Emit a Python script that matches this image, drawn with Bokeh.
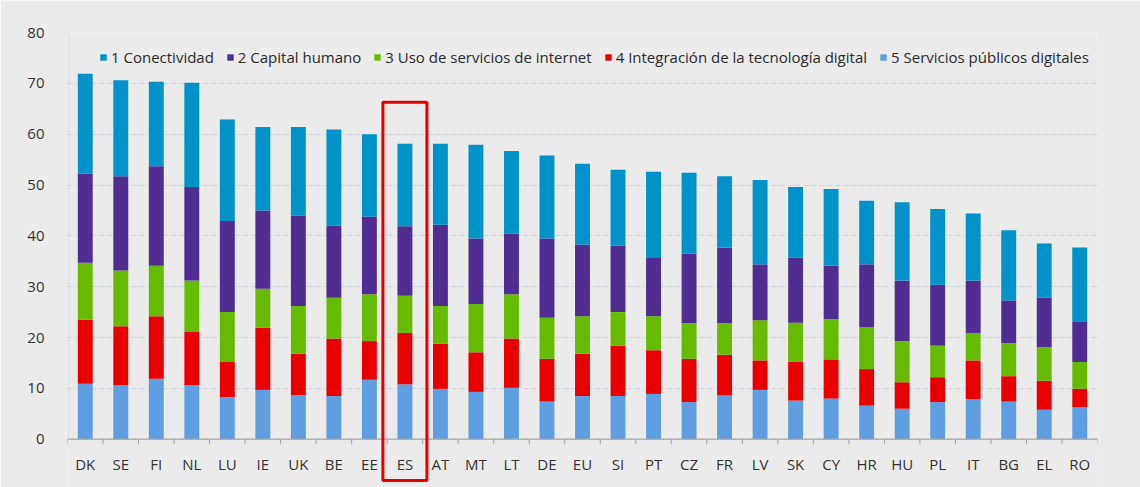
from bokeh.plotting import figure
from bokeh.models import (ColumnDataSource, Range1d, FixedTicker, Span,
                          Legend, LegendItem, BoxAnnotation)
from bokeh.core.properties import value
from bokeh.embed import file_html
from bokeh.resources import INLINE

countries = ["DK", "SE", "FI", "NL", "LU", "IE", "UK", "BE", "EE", "ES", "AT", "MT", "LT", "DE", "EU",
             "SI", "PT", "CZ", "FR", "LV", "SK", "CY", "HR", "HU", "PL", "IT", "BG", "EL", "RO"]

series_names = ["1 Conectividad", "2 Capital humano", "3 Uso de servicios de internet",
                "4 Integración de la tecnología digital", "5 Servicios públicos digitales"]

conectividad = [19.7, 18.9, 16.6, 20.5, 20.0, 16.4, 17.4, 18.9, 16.2, 16.2, 15.9, 18.4, 16.3, 16.3, 15.9,
                14.9, 16.8, 15.9, 14.0, 16.6, 13.9, 15.1, 12.5, 15.4, 14.9, 13.2, 13.8, 10.7, 14.5]
capital_humano = [17.5, 18.5, 19.6, 18.4, 17.9, 15.4, 17.8, 14.2, 15.3, 13.7, 16.0, 12.9, 11.9, 15.6, 14.1,
                  13.1, 11.6, 13.7, 14.9, 11.0, 12.8, 10.5, 12.4, 11.9, 12.0, 10.3, 8.4, 9.7, 8.0]
uso_internet = [11.2, 11.0, 9.9, 10.0, 9.8, 7.7, 9.4, 8.0, 9.2, 7.3, 7.4, 9.5, 8.7, 8.1, 7.4,
                6.6, 6.7, 7.0, 6.2, 7.9, 7.7, 7.9, 8.2, 8.1, 6.2, 5.4, 6.5, 6.6, 5.3]
integracion = [12.6, 11.6, 12.3, 10.6, 6.9, 12.2, 8.1, 11.3, 7.6, 10.1, 8.9, 7.8, 9.7, 8.4, 8.3,
               9.9, 8.6, 8.5, 8.0, 5.8, 7.6, 7.7, 7.2, 5.2, 4.9, 7.6, 5.0, 5.7, 3.6]
servicios_publicos = [10.9, 10.6, 11.9, 10.6, 8.3, 9.7, 8.7, 8.5, 11.7, 10.8, 9.9, 9.3, 10.1, 7.4, 8.5,
                      8.5, 8.9, 7.3, 8.6, 9.7, 7.6, 8.0, 6.6, 6.0, 7.3, 7.9, 7.4, 5.8, 6.3]

y_ticks = [0, 10, 20, 30, 40, 50, 60, 70, 80]
highlight = "ES"

colors = ["#0092c8", "#502d91", "#66bb00", "#e80000", "#5f9ee0"]
BG = "#ebebeb"
AXIS = "#a6a6a6"
TEXT = "#333333"

n = len(countries)
xpos = [i + 0.5 for i in range(n)]
src = ColumnDataSource(dict(country=countries, x=xpos, s1=conectividad, s2=capital_humano,
                            s3=uso_internet, s4=integracion, s5=servicios_publicos))

# frame extends below zero so that the category labels and the highlight box sit inside it
y_bottom = -9.5
p = figure(width=1140, height=487, x_range=Range1d(0, n), y_range=Range1d(y_bottom, y_ticks[-1]),
           output_backend="svg", toolbar_location=None, x_axis_location=None,
           min_border_left=67, min_border_right=43, min_border_top=32, min_border_bottom=0)
p.background_fill_color = BG
p.border_fill_color = BG
p.outline_line_color = None

rs = p.vbar_stack(["s5", "s4", "s3", "s2", "s1"], x="x", width=0.42,
                  color=colors[::-1], line_color=None, source=src)

# x axis line, boundary ticks and category labels
p.add_layout(Span(location=0, dimension="width", line_color=AXIS, line_width=1.2))
bounds = [float(i) for i in range(n + 1)]
p.segment(x0=bounds, y0=[0] * len(bounds), x1=bounds, y1=[-1.0] * len(bounds),
          line_color=AXIS, line_width=1)
p.text(x="x", y=-4.8, text="country", source=src, text_align="center", text_baseline="middle",
       text_font=value("Open Sans"), text_font_size="15px", text_color=TEXT)

# y axis
ya = p.yaxis[0]
ya.ticker = FixedTicker(ticks=y_ticks)
ya.axis_line_color = None
ya.major_tick_line_color = None
ya.minor_tick_line_color = None
ya.major_label_standoff = 17
ya.major_label_text_font = "Open Sans"
ya.major_label_text_font_size = "15px"
ya.major_label_text_color = TEXT
p.segment(x0=[0.02], y0=[y_ticks[0]], x1=[0.02], y1=[y_ticks[-1]], line_color="#d3d8e2", line_width=1)

p.xgrid.visible = False
p.ygrid.grid_line_color = "#cdd3df"
p.ygrid.grid_line_dash = "5 3"
p.ygrid.grid_line_width = 1

order = [4, 3, 2, 1, 0]  # rs is stacked bottom-up: s5..s1
items = [LegendItem(label=series_names[k], renderers=[rs[order[k]]]) for k in range(5)]
legend = Legend(items=items, orientation="horizontal", location=(32, 420))
legend.background_fill_alpha = 0
legend.border_line_color = None
legend.padding = 0
legend.margin = 0
legend.spacing = 12
legend.glyph_width = 8
legend.glyph_height = 8
legend.label_standoff = 4
legend.label_height = 20
legend.label_text_font = "Open Sans"
legend.label_text_font_size = "15px"
legend.label_text_color = "#2a2a2a"
p.add_layout(legend, "center")

hi = countries.index(highlight)
box = BoxAnnotation(left=xpos[hi] - 0.62, right=xpos[hi] + 0.62, top=66.3, bottom=-8.1,
                    fill_color=None, fill_alpha=0, line_color="#e00000", line_alpha=1, line_width=3)
p.add_layout(box)

open("out.html", "w").write(file_html(p, INLINE))
